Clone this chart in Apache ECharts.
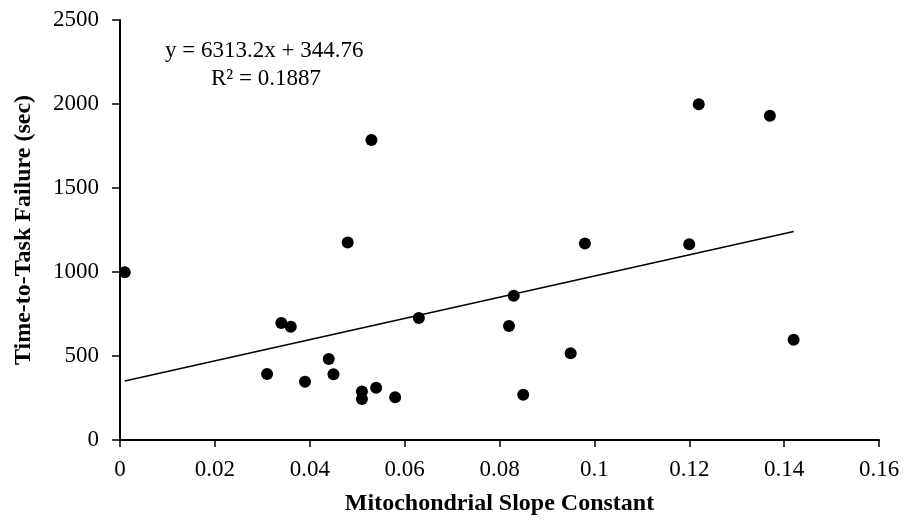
<!DOCTYPE html>
<html lang="en">
<head>
  <meta charset="UTF-8">
  <title>Time-to-Task Failure vs Mitochondrial Slope Constant</title>
  <script src="https://cdn.jsdelivr.net/npm/echarts@6/dist/echarts.min.js"></script>
  <style>
    html, body { margin: 0; padding: 0; background: #fff; }
    #chart { width: 908px; height: 527px; }
  </style>
</head>
<body>
  <div id="chart"></div>
  <script>
    // mitochondrial slope constant (x) and time-to-task failure in sec (y)
    const slopeK = [0.001, 0.031, 0.034, 0.036, 0.039, 0.044, 0.045, 0.048, 0.051, 0.051, 0.053, 0.054,
                    0.058, 0.063, 0.082, 0.083, 0.085, 0.095, 0.098, 0.120, 0.122, 0.137, 0.142];
    const ttf    = [998, 393, 696, 674, 347, 482, 391, 1175, 288, 244, 1786, 311,
                    254, 726, 679, 859, 270, 516, 1170, 1165, 1998, 1930, 597];

    // linear trendline from the spreadsheet fit
    const fitSlope = 6313.2;
    const fitIntercept = 344.76;
    const fitR2 = 0.1887;

    const points = slopeK.map((x, i) => [x, ttf[i]]);
    const xMin = Math.min(...slopeK);
    const xMax = Math.max(...slopeK);
    const trend = [xMin, xMax].map(x => [x, fitSlope * x + fitIntercept]);

    const font = '"Liberation Serif", "Times New Roman", serif';

    const chart = echarts.init(document.getElementById('chart'));
    chart.setOption({
      animation: false,
      backgroundColor: '#fff',
      grid: { left: 120, right: 29, top: 20, bottom: 87 },
      xAxis: {
        type: 'value',
        min: 0, max: 0.16, interval: 0.02,
        name: 'Mitochondrial Slope Constant',
        nameLocation: 'middle',
        nameGap: 52,
        nameTextStyle: { fontFamily: font, fontWeight: 'bold', fontSize: 24, color: '#000' },
        axisLine: { lineStyle: { color: '#000', width: 2 } },
        axisTick: { show: true, inside: false, length: 7, lineStyle: { color: '#000', width: 1.5 } },
        axisLabel: { fontFamily: font, fontSize: 23, color: '#000', margin: 18 },
        splitLine: { show: false }
      },
      yAxis: {
        type: 'value',
        min: 0, max: 2500, interval: 500,
        name: 'Time-to-Task Failure (sec)',
        nameLocation: 'middle',
        nameGap: 84,
        nameTextStyle: { fontFamily: font, fontWeight: 'bold', fontSize: 24, color: '#000' },
        axisLine: { show: true, lineStyle: { color: '#000', width: 2 } },
        axisTick: { show: true, inside: false, length: 8, lineStyle: { color: '#000', width: 1.5 } },
        axisLabel: { fontFamily: font, fontSize: 23, color: '#000', margin: 21, formatter: v => String(v) },
        splitLine: { show: false }
      },
      graphic: [
        {
          type: 'text', left: 165, top: 39, silent: true,
          style: { text: 'y = ' + fitSlope + 'x + ' + fitIntercept, font: '23px ' + font, fill: '#000' }
        },
        {
          type: 'text', left: 211, top: 67, silent: true,
          style: { text: 'R² = ' + fitR2, font: '23px ' + font, fill: '#000' }
        }
      ],
      series: [
        {
          type: 'line',
          data: trend,
          symbol: 'none',
          silent: true,
          lineStyle: { color: '#000', width: 1.6 },
          z: 1
        },
        {
          type: 'scatter',
          data: points,
          symbol: 'circle',
          symbolSize: 12,
          itemStyle: { color: '#000', opacity: 1 },
          z: 2
        }
      ]
    });
  </script>
</body>
</html>
